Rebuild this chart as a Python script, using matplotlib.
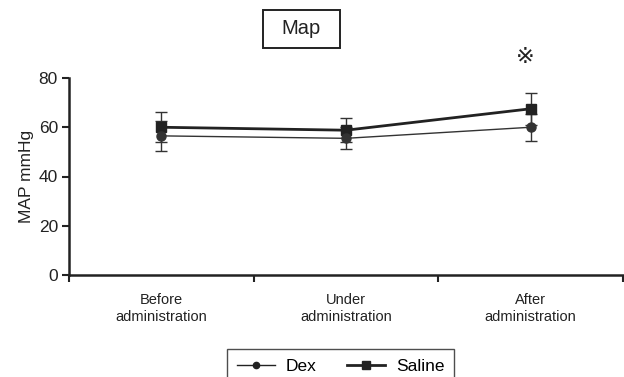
import matplotlib
matplotlib.use("Agg")
import matplotlib.pyplot as plt
from matplotlib.lines import Line2D
from matplotlib.patches import Rectangle
import numpy as np

categories = ["Before\nadministration", "Under\nadministration", "After\nadministration"]
dex_mean = [56.5, 55.5, 60.0]
dex_err = [6.0, 4.5, 5.5]
saline_mean = [60.0, 58.8, 67.5]
saline_err = [6.0, 4.8, 6.5]
yticks = [0, 20, 40, 60, 80]

plt.rcParams['font.family'] = ['Liberation Sans', 'DejaVu Sans', 'Noto Sans CJK JP']
col = '#222222'
W, H = 624, 377

fig = plt.figure(figsize=(6.24, 3.77), dpi=100)
ax = fig.add_axes([69/W, 1-275/H, (623-69)/W, (275-78)/H])

x = np.arange(len(categories)) + 0.5
ax.errorbar(x, saline_mean, yerr=saline_err, color=col, lw=2.0, marker='s', ms=6.5,
            capsize=4, elinewidth=1.0, capthick=1.0, ecolor='#333333', zorder=3)
ax.errorbar(x, dex_mean, yerr=dex_err, color='#333333', lw=1.0, marker='o', ms=6.5,
            capsize=4, elinewidth=1.0, capthick=1.0, ecolor='#333333', zorder=3)

ax.set_xlim(0, len(categories))
ax.set_ylim(0, 80)
ax.set_yticks(yticks)
ax.set_xticks(np.arange(len(categories) + 1))
ax.set_xticklabels([])
ax.set_xticks(x, minor=True)
ax.set_xticklabels(categories, minor=True, fontsize=10.5, color=col, linespacing=1.3)
ax.tick_params(axis='x', which='minor', length=0, pad=13)
ax.tick_params(axis='x', which='major', length=5, width=1.5, color=col, direction='out')
ax.tick_params(axis='y', length=5, width=1.5, color=col, labelsize=12.5, labelcolor=col, pad=3)
for s in ['top', 'right']:
    ax.spines[s].set_visible(False)
for s in ['left', 'bottom']:
    ax.spines[s].set_linewidth(1.8)
    ax.spines[s].set_color(col)
ax.spines['left'].set_bounds(0, 80)
ax.set_ylabel("MAP mmHg", fontsize=12.5, color=col, labelpad=3)

ax.text(x[2] - 0.03, 88.5, "\u203b", ha='center', va='center', fontsize=16,
        color=col, clip_on=False)

fig.patches.append(Rectangle((263/W, 1-48/H), 77/W, 38/H, transform=fig.transFigure,
                             fill=False, ec=col, lw=1.4))
fig.text(301/W, 1-29/H, "Map", ha='center', va='center', fontsize=14.5, color=col)

handles = [Line2D([], [], color=col, lw=1.0, marker='o', ms=4.5),
           Line2D([], [], color=col, lw=2.0, marker='s', ms=5.5)]
leg = fig.legend(handles, ["Dex", "Saline"], loc='upper left',
                 bbox_to_anchor=(227/W, 1-349/H), ncol=2, fontsize=12.5,
                 frameon=True, fancybox=False, edgecolor=col, handlelength=2.2,
                 columnspacing=1.8, borderpad=0.55, handletextpad=0.6, borderaxespad=0)
leg.get_frame().set_linewidth(1.0)

fig.savefig("out.png", dpi=100)
